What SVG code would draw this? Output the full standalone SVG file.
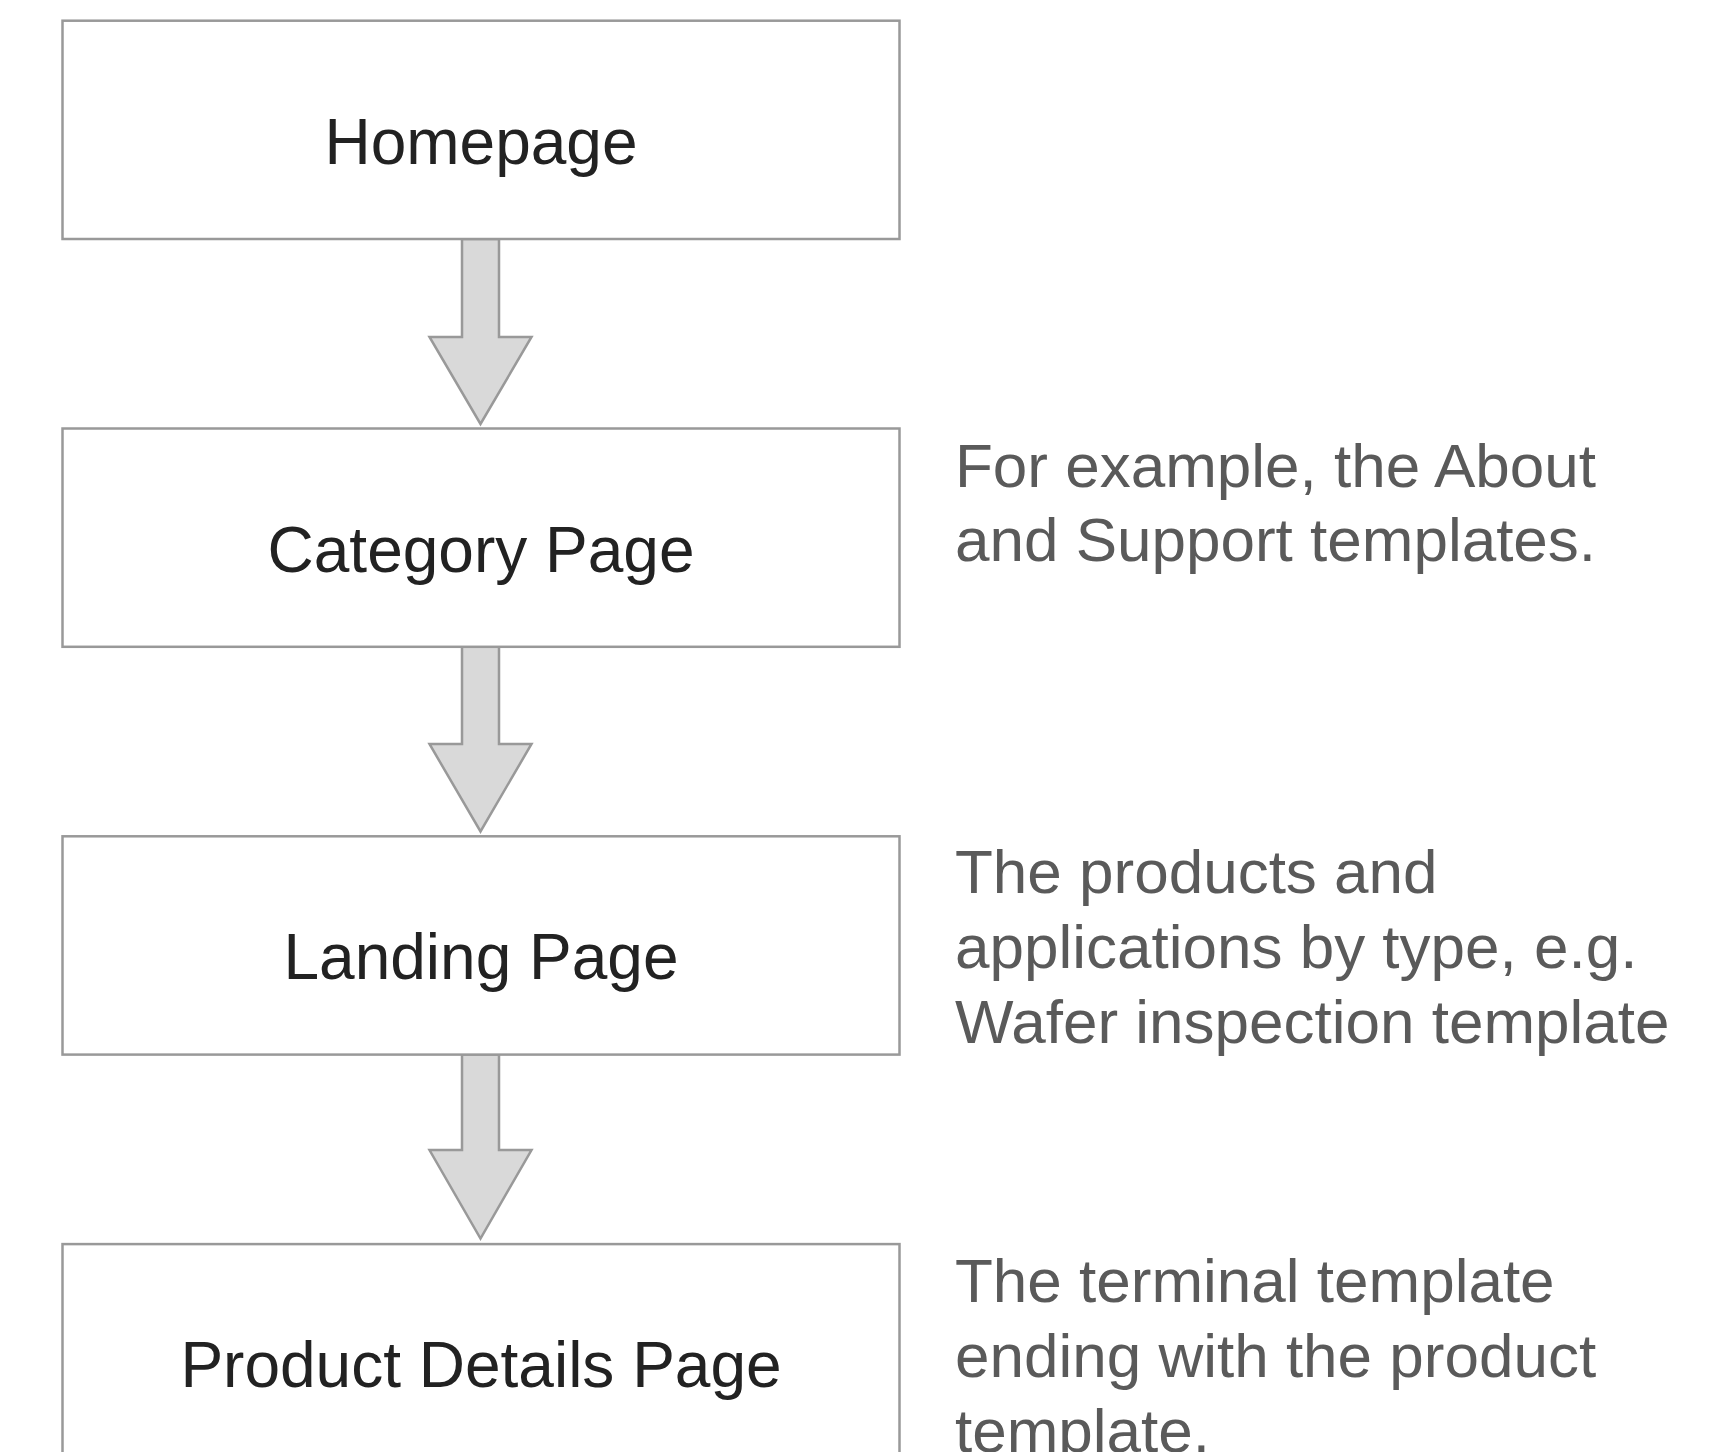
<svg xmlns="http://www.w3.org/2000/svg" width="1726" height="1452" viewBox="0 0 1726 1452">
  <style>
    .box { fill: #ffffff; stroke: #999999; stroke-width: 2.5; }
    .arrow { fill: #d9d9d9; stroke: #999999; stroke-width: 2.5; stroke-linejoin: miter; }
    .label { font-family: "Liberation Sans", Arial, sans-serif; font-size: 64px; fill: #222222; text-anchor: middle; }
    .note { font-family: "Liberation Sans", Arial, sans-serif; font-size: 62px; fill: #5a5a5a; }
  </style>
  <rect width="1726" height="1452" fill="#ffffff"/>
  <g id="connectors">
    <polygon class="arrow" points="462,239 499,239 499,337 531.5,337 480.5,424 429.5,337 462,337"/>
    <polygon class="arrow" points="462,646.8 499,646.8 499,744 531.5,744 480.5,831.5 429.5,744 462,744"/>
    <polygon class="arrow" points="462,1054.6 499,1054.6 499,1150 531.5,1150 480.5,1238.5 429.5,1150 462,1150"/>
  </g>
  <g id="node-homepage">
    <rect class="box" x="62.5" y="20.7" width="837" height="218.3"/>
    <text class="label" x="481" y="163.5">Homepage</text>
  </g>
  <g id="node-category">
    <rect class="box" x="62.5" y="428.5" width="837" height="218.3"/>
    <text class="label" x="481" y="571.5">Category Page</text>
  </g>
  <g id="node-landing">
    <rect class="box" x="62.5" y="836.3" width="837" height="218.3"/>
    <text class="label" x="481" y="979">Landing Page</text>
  </g>
  <g id="node-product">
    <rect class="box" x="62.5" y="1244.1" width="837" height="218.3"/>
    <text class="label" x="481" y="1387">Product Details Page</text>
  </g>
  <g id="note-category">
    <text class="note" x="955" y="486.6">For example, the About</text>
    <text class="note" x="955" y="561.4">and Support templates.</text>
  </g>
  <g id="note-landing">
    <text class="note" x="955" y="893.3">The products and</text>
    <text class="note" x="955" y="968.2">applications by type, e.g.</text>
    <text class="note" x="955" y="1043">Wafer inspection template</text>
  </g>
  <g id="note-product">
    <text class="note" x="955" y="1301.7">The terminal template</text>
    <text class="note" x="955" y="1376.6">ending with the product</text>
    <text class="note" x="955" y="1451.5">template.</text>
  </g>
</svg>
